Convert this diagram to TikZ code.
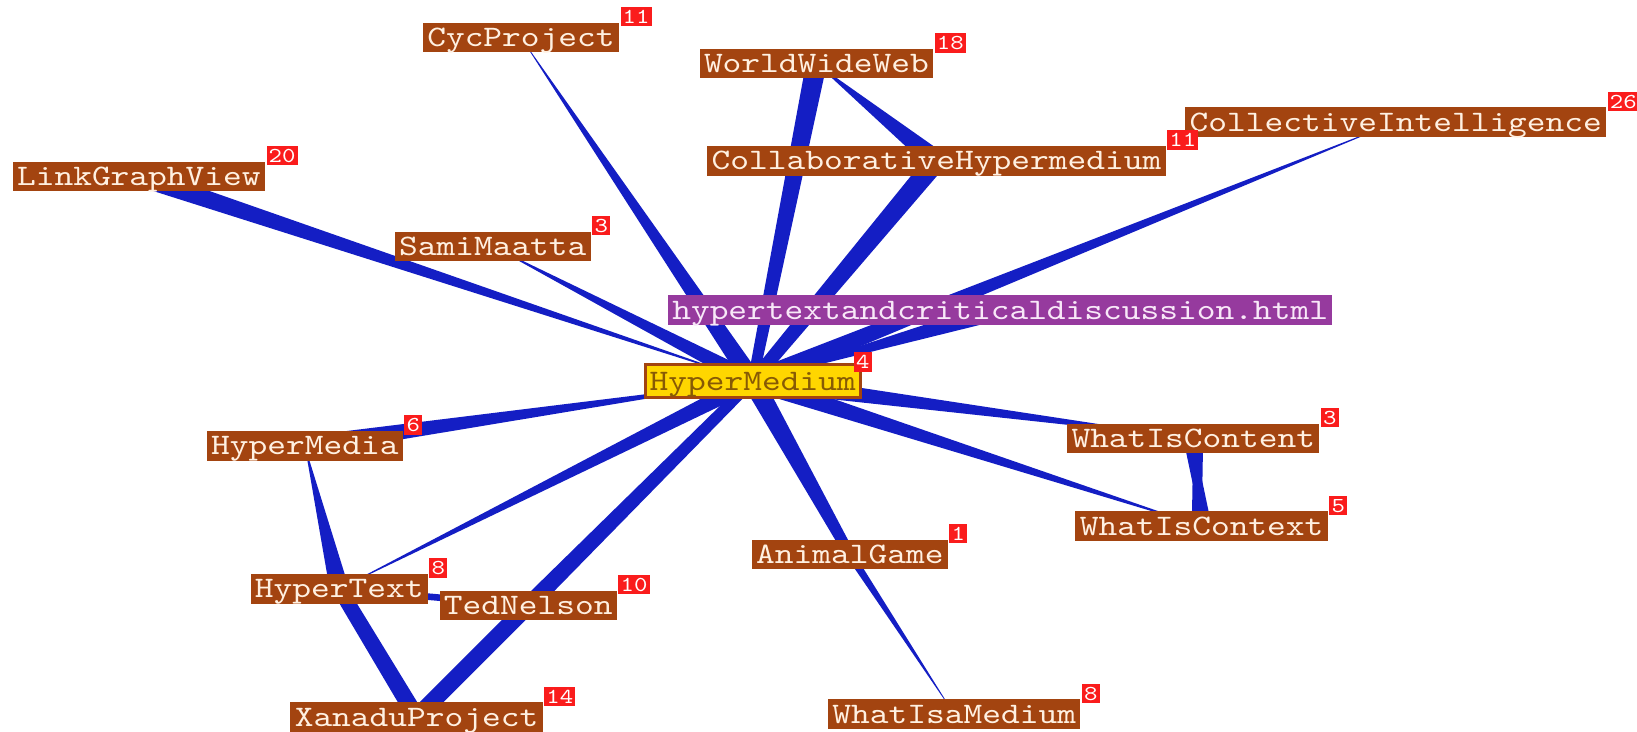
\documentclass[tikz,border=0pt]{standalone}
\usepackage{fontspec}
\newfontfamily\pagefont{lmmono10-regular}[Extension=.otf, FakeStretch=1.2]
\usetikzlibrary{positioning, calc}
\pgfdeclarelayer{background}
\pgfsetlayers{background,main}

\definecolor{pagebrown}{RGB}{163,68,16}
\definecolor{pagetext}{RGB}{255,240,225}
\definecolor{discpurple}{RGB}{150,58,158}
\definecolor{disctext}{RGB}{248,232,248}
\definecolor{homeyellow}{RGB}{255,214,0}
\definecolor{hometext}{RGB}{135,90,5}
\definecolor{badgered}{RGB}{250,28,28}
\definecolor{linkblue}{RGB}{20,30,196}

\begin{document}
\begin{tikzpicture}[x=0.01cm, y=-0.01cm]
\tikzset{
page/.style={fill=pagebrown, text=pagetext, font=\fontsize{8.1}{9}\pagefont, inner xsep=1.2pt, inner ysep=0.3pt, text height=6.2pt, text depth=1.25pt}, % a linked wiki page
disc/.style={page, fill=discpurple, text=disctext}, % the discussion file
home/.style={page, fill=homeyellow, text=hometext, draw=pagebrown, line width=0.8pt, inner ysep=0.75pt}, % the page in focus
badge/.style={fill=badgered, text=white, font=\fontsize{5.8}{6}\pagefont, inner xsep=0.6pt, inner ysep=0.5pt, text height=4pt, text depth=0.3pt}, % number of links
link/.style={fill=linkblue}, % tapered link, wide at its source
}
\useasboundingbox (0,0) rectangle (1568,701);

% pages
\node[home] (hm) at (721,365) {HyperMedium};
\node[disc] (disc) at (958,297) {hypertextandcriticaldiscussion.html};
\node[page] (cyc) at (499,36) {CycProject};
\node[page] (www) at (782,61) {WorldWideWeb};
\node[page] (collab) at (897,154) {CollaborativeHypermedium};
\node[page] (ci) at (1337,117) {CollectiveIntelligence};
\node[page] (lgv) at (133,169) {LinkGraphView};
\node[page] (sm) at (472,236) {SamiMaatta};
\node[page] (hmedia) at (292,427) {HyperMedia};
\node[page] (wic) at (1143,420) {WhatIsContent};
\node[page] (wix) at (1151,504) {WhatIsContext};
\node[page] (ag) at (814,531) {AnimalGame};
\node[page] (ht) at (325,564) {HyperText};
\node[page] (tn) at (506,580) {TedNelson};
\node[page] (xp) at (399,687) {XanaduProject};
\node[page] (wim) at (914,684) {WhatIsaMedium};

% link counts
\node[badge, above right=-2.5pt and -2.3pt of hm] (hmn) {4};
\node[badge, above right=-1.4pt and 0pt of cyc] (cycn) {11};
\node[badge, above right=-1.4pt and 0pt of www] (wwwn) {18};
\node[badge, above right=-1.4pt and 0pt of collab] (collabn) {11};
\node[badge, above right=-1.4pt and 0pt of ci] (cin) {26};
\node[badge, above right=-1.4pt and 0pt of lgv] (lgvn) {20};
\node[badge, above right=-1.4pt and 0pt of sm] (smn) {3};
\node[badge, above right=-1.4pt and 0pt of hmedia] (hmedian) {6};
\node[badge, above right=-1.4pt and 0pt of wic] (wicn) {3};
\node[badge, above right=-1.4pt and 0pt of wix] (wixn) {5};
\node[badge, above right=-1.4pt and 0pt of ag] (agn) {1};
\node[badge, above right=-1.4pt and 0pt of ht] (htn) {8};
\node[badge, above right=-1.4pt and 0pt of tn] (tnn) {10};
\node[badge, above right=-1.4pt and 0pt of xp] (xpn) {14};
\node[badge, above right=-1.4pt and 0pt of wim] (wimn) {8};

% links: source/target/half width at source/half width at target
\begin{pgfonlayer}{background}
\fill[white] (0,0) rectangle (1568,701);
\foreach \a/\b/\wa/\wb in {lgv/hm/2.6pt/0pt, hm/sm/2.3pt/0pt, hm/cyc/2.6pt/0pt,
  www/hm/2.8pt/1.4pt, collab/hm/2.8pt/1.7pt, collab/www/2.8pt/0pt,
  hm/ci/2.6pt/0pt, disc/hm/2.6pt/0pt, hmedia/hm/2.6pt/0pt, hm/ht/2.3pt/0pt,
  tn/hm/2.3pt/1.4pt, hm/ag/2.8pt/1.4pt, hm/wic/2.6pt/0pt, hm/wix/2.6pt/0pt,
  wic/wix/2.7pt/0pt, wix/wic/2.7pt/0pt, ag/wim/1.1pt/0pt, ht/hmedia/2.6pt/0pt,
  ht/xp/2pt/2.3pt, tn/xp/2.3pt/2.3pt, ht/tn/0.9pt/0.9pt}
  \fill[link] ($(\a.center)!\wa!90:(\b.center)$) -- ($(\b.center)!\wb!-90:(\a.center)$)
    -- ($(\b.center)!\wb!90:(\a.center)$) -- ($(\a.center)!\wa!-90:(\b.center)$) -- cycle;
\end{pgfonlayer}
\end{tikzpicture}
\end{document}
